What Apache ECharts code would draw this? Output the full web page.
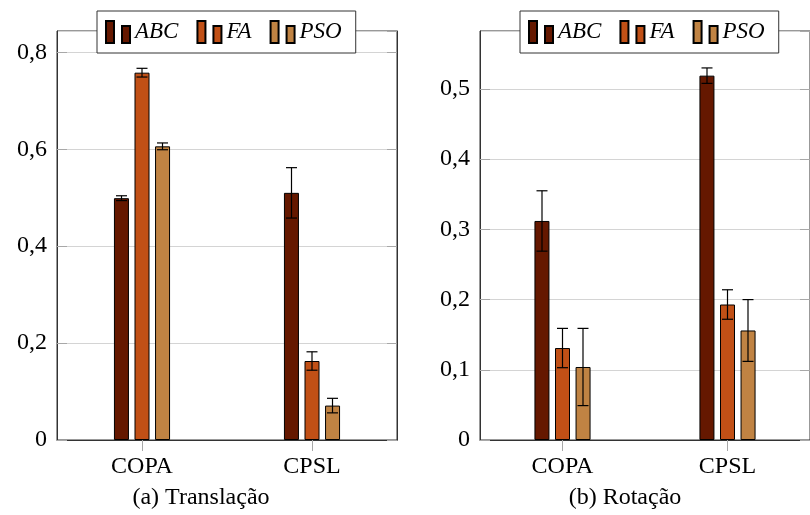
<!DOCTYPE html>
<html>
<head>
<meta charset="utf-8">
<script src="https://cdn.jsdelivr.net/npm/echarts@6/dist/echarts.min.js"></script>
<style>
  html, body { margin: 0; padding: 0; background: #fff; }
  #main { width: 810px; height: 515px; }
</style>
</head>
<body>
<div id="main"></div>
<script>
// dados
const categories = ["COPA", "CPSL"];
const seriesNames = ["ABC", "FA", "PSO"];
const colors = ["#651800", "#c15016", "#c08343"];

// (a) Translação
const transABC = [0.499, 0.510];
const transFA = [0.758, 0.163];
const transPSO = [0.606, 0.071];
const transErrABC = [0.005, 0.052];
const transErrFA = [0.009, 0.019];
const transErrPSO = [0.007, 0.015];

// (b) Rotação
const rotABC = [0.312, 0.519];
const rotFA = [0.131, 0.193];
const rotPSO = [0.104, 0.156];
const rotErrABC = [0.043, 0.011];
const rotErrFA = [0.028, 0.021];
const rotErrPSO = [0.055, 0.044];

const FONT = "'Liberation Serif', serif";
const BAR_W = 15;
const BAR_STEP = 20.5; // distancia entre centros das barras

const legendIcon = "path://M0,0h8v22h-8z M16,5h8v17h-8z";

function fmt(v) {
  if (v === 0) return "0";
  return String(+v.toFixed(2)).replace(".", ",");
}

function makeYAxis(gridIndex, max, interval, right) {
  return {
    type: "value",
    gridIndex: gridIndex,
    position: right ? "right" : "left",
    min: 0,
    max: max,
    interval: interval,
    axisLine: { show: true, lineStyle: { color: "#333", width: 1 } },
    axisTick: { show: true, inside: true, length: 10, lineStyle: { color: "#a8a8a8", width: 1 } },
    axisLabel: {
      show: !right,
      showMaxLabel: false,
      formatter: fmt,
      fontFamily: FONT,
      fontSize: 24,
      color: "#000",
      margin: 10,
    },
    splitLine: { show: !right, lineStyle: { color: "#d4d4d4", width: 1 } },
  };
}

function makeXAxis(gridIndex) {
  return {
    type: "category",
    gridIndex: gridIndex,
    data: categories,
    boundaryGap: true,
    axisLine: { show: true, lineStyle: { color: "#333", width: 1 } },
    axisTick: { show: true, alignWithLabel: true, length: 11, lineStyle: { color: "#a8a8a8" } },
    axisLabel: { fontFamily: FONT, fontSize: 24, color: "#000", margin: 15 },
    splitLine: { show: false },
  };
}

function barSeries(name, idx, data, axisIndex) {
  return {
    type: "bar",
    name: name,
    data: data,
    xAxisIndex: axisIndex,
    yAxisIndex: axisIndex * 2,
    barWidth: BAR_W,
    barGap: "37%",
    itemStyle: { color: colors[idx], borderColor: "#000", borderWidth: 1 },
    emphasis: { disabled: true },
  };
}

function errorSeries(idx, values, errs, axisIndex) {
  const data = values.map((v, i) => [i, v, errs[i]]);
  return {
    type: "custom",
    name: "err" + idx,
    xAxisIndex: axisIndex,
    yAxisIndex: axisIndex * 2,
    data: data,
    z: 5,
    silent: true,
    renderItem: function (params, api) {
      const i = api.value(0);
      const v = api.value(1);
      const e = api.value(2);
      const top = api.coord([i, v + e]);
      const bot = api.coord([i, v - e]);
      const x = top[0] + (idx - 1) * BAR_STEP;
      const cap = 5.5;
      const style = { stroke: "#000", lineWidth: 1.2 };
      return {
        type: "group",
        children: [
          { type: "line", shape: { x1: x, y1: top[1], x2: x, y2: bot[1] }, style: style },
          { type: "line", shape: { x1: x - cap, y1: top[1], x2: x + cap, y2: top[1] }, style: style },
          { type: "line", shape: { x1: x - cap, y1: bot[1], x2: x + cap, y2: bot[1] }, style: style },
        ],
      };
    },
  };
}

function makeLegend(left) {
  return {
    left: left,
    top: 11,
    data: seriesNames,
    icon: legendIcon,
    itemWidth: 24,
    itemHeight: 22,
    itemGap: 18,
    padding: [9, 14, 9, 8],
    backgroundColor: "#fff",
    borderColor: "#333",
    borderWidth: 1,
    borderRadius: 0,
    selectedMode: false,
    textStyle: { fontFamily: FONT, fontStyle: "italic", fontSize: 23, color: "#000" },
    z: 10,
  };
}

let option = {
  animation: false,
  backgroundColor: "#fff",
  grid: [
    { left: 57, top: 31, width: 340, height: 409, show: true, borderColor: "#333", borderWidth: 1, backgroundColor: "transparent" },
    { left: 480, top: 31, width: 338, height: 409, show: true, borderColor: "#333", borderWidth: 1, backgroundColor: "transparent" },
  ],
  legend: [makeLegend(97), makeLegend(520)],
  xAxis: [makeXAxis(0), makeXAxis(1)],
  yAxis: [
    makeYAxis(0, 0.844, 0.2, false),
    makeYAxis(0, 0.844, 0.2, true),
    makeYAxis(1, 0.5826, 0.1, false),
    makeYAxis(1, 0.5826, 0.1, true),
  ],
  series: [
    barSeries("ABC", 0, transABC, 0),
    barSeries("FA", 1, transFA, 0),
    barSeries("PSO", 2, transPSO, 0),
    barSeries("ABC", 0, rotABC, 1),
    barSeries("FA", 1, rotFA, 1),
    barSeries("PSO", 2, rotPSO, 1),
    errorSeries(0, transABC, transErrABC, 0),
    errorSeries(1, transFA, transErrFA, 0),
    errorSeries(2, transPSO, transErrPSO, 0),
    errorSeries(0, rotABC, rotErrABC, 1),
    errorSeries(1, rotFA, rotErrFA, 1),
    errorSeries(2, rotPSO, rotErrPSO, 1),
  ],
  graphic: [
    {
      type: "text",
      x: 201,
      y: 498,
      style: { text: "(a) Translação", font: "24px 'Liberation Serif'", fill: "#000", textAlign: "center", textVerticalAlign: "middle" },
    },
    {
      type: "text",
      x: 625,
      y: 498,
      style: { text: "(b) Rotação", font: "24px 'Liberation Serif'", fill: "#000", textAlign: "center", textVerticalAlign: "middle" },
    },
  ],
};

const chart = echarts.init(document.getElementById("main"));
chart.setOption(option);
</script>
</body>
</html>
